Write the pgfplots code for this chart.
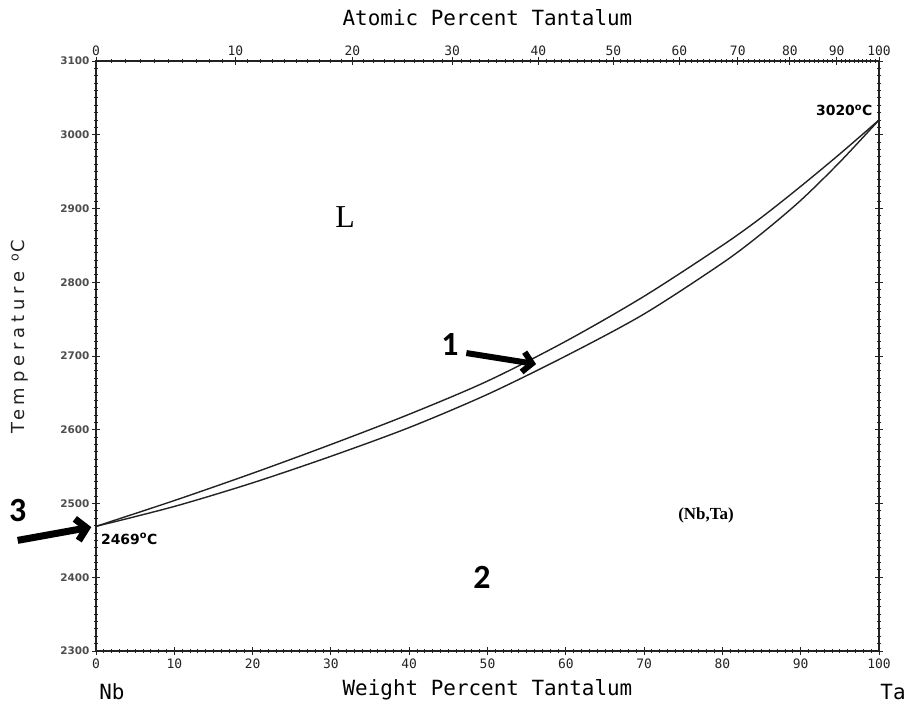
\documentclass[border=0pt]{standalone}
\usepackage{pgfplots}
\pgfplotsset{compat=1.18}
\usepackage{fontspec}
\usetikzlibrary{arrows.meta}
\setmainfont{DejaVu Sans}
\newfontfamily\plotmono{DejaVu Sans Mono}
\newfontfamily\plotsans[LetterSpace=27]{DejaVu Sans}
\newfontfamily\callout{Carlito}
\newfontfamily\regserif{Liberation Serif}
\definecolor{inkGray}{HTML}{222222}

\pgfplotsset{
  phaseAxis/.style={
    scale only axis,
    width=783bp, height=590bp,
    xmin=0, xmax=100, ymin=2300, ymax=3100,
    tick align=center,
    major tick length=8bp,
    minor tick length=4bp,
    axis line style={draw=inkGray, line width=1.3bp},
    every tick/.style={draw=inkGray, line width=0.9bp},
    clip=false
  }
}

\begin{document}
\begin{tikzpicture}
  \begin{axis}[
    phaseAxis,
    name=ax,
    at={(0,0)}, anchor=south west,
    xtick={0,10,...,100},
    minor x tick num=9,
    xtick pos=bottom,
    ytick={2300,2400,...,3100},
    minor y tick num=9,
    ytick pos=both,
    yticklabel pos=left,
    x tick label style={font=\plotmono\fontsize{13}{13}\selectfont, text=inkGray, yshift=0bp},
    y tick label style={font=\bfseries\fontsize{10.5}{11}\selectfont, text=inkGray!80, xshift=1bp},
    /pgf/number format/assume math mode=true,
    /pgf/number format/1000 sep={}
  ]
    % liquidus
    \addplot[smooth, line width=1.4bp, draw=inkGray] coordinates {
      (0,2469) (10,2504) (20,2541) (30,2580) (40,2621) (50,2666)
      (60,2720) (70,2781) (80,2850) (85,2888) (90,2930) (95,2974) (100,3020)
    };
    % solidus
    \addplot[smooth, line width=1.4bp, draw=inkGray] coordinates {
      (0,2469) (10,2496) (20,2528) (30,2564) (40,2603) (50,2648)
      (60,2700) (70,2757) (80,2826) (85,2866) (90,2911) (95,2963) (100,3020)
    };

    \node[font=\regserif\fontsize{32}{32}\selectfont] at (axis cs:31.8,2888) {L};
    \node[font=\regserif\bfseries\fontsize{17}{17}\selectfont] at (axis cs:77.9,2484) {(Nb,Ta)};
    \node[anchor=east, font=\bfseries\fontsize{14}{14}\selectfont] at (axis cs:99.6,3033) {3020\textsuperscript{o}C};
    \node[anchor=west, font=\bfseries\fontsize{14}{14}\selectfont] at (axis cs:0.2,2452) {2469\textsuperscript{o}C};

    % callouts
    \node[font=\callout\bfseries\fontsize{34}{34}\selectfont] at (axis cs:45.2,2715) {1};
    \draw[line width=6bp, -{Straight Barb[length=9bp, width=20bp]}]
      (axis cs:47.3,2704) -- (axis cs:56.2,2689);
    \node[font=\callout\bfseries\fontsize{34}{34}\selectfont] at (axis cs:49.3,2400) {2};
    \node[font=\callout\bfseries\fontsize{34}{34}\selectfont] at (axis cs:-10.0,2490) {3};
    \draw[line width=7bp, -{Straight Barb[length=10bp, width=22bp]}]
      (axis cs:-10.0,2450) -- (axis cs:-0.6,2468);
  \end{axis}

  % top axis: atomic percent
  \begin{axis}[
    phaseAxis,
    at={(ax.south west)}, anchor=south west,
    x coord trafo/.code={\pgfmathparse{100*#1/(51.344+0.48656*#1)}},
    x coord inv trafo/.code={\pgfmathparse{51.344*#1/(100-0.48656*#1)}},
    axis x line*=top,
    axis y line=none,
    xtick={0,10,20,30,40,50,60,70,80,90,100},
    xticklabels={0,10,20,30,40,50,60,70,80,90,100},
    minor xtick={1,2,...,99},
    x tick label style={font=\plotmono\fontsize{13}{13}\selectfont, text=inkGray, yshift=-2bp}
  ]
  \end{axis}

  \node[font=\plotmono\fontsize{21}{21}\selectfont] at ([yshift=43bp]ax.north) {Atomic Percent Tantalum};
  \node[font=\plotmono\fontsize{21}{21}\selectfont] at ([yshift=-39bp]ax.south) {Weight Percent Tantalum};
  \node[font=\plotmono\fontsize{21}{21}\selectfont] at ([xshift=16bp, yshift=-41bp]ax.south west) {Nb};
  \node[font=\plotmono\fontsize{21}{21}\selectfont] at ([xshift=14bp, yshift=-41bp]ax.south east) {Ta};
  \node[rotate=90, font=\plotsans\fontsize{18}{18}\selectfont, text=inkGray] at ([xshift=-76bp, yshift=19bp]ax.west) {Temperature \textsuperscript{o}C};

  \pgfresetboundingbox
  \path[use as bounding box] (ax.south west) ++(-96bp,-55bp) rectangle ++(906bp,706bp);
\end{tikzpicture}
\end{document}
